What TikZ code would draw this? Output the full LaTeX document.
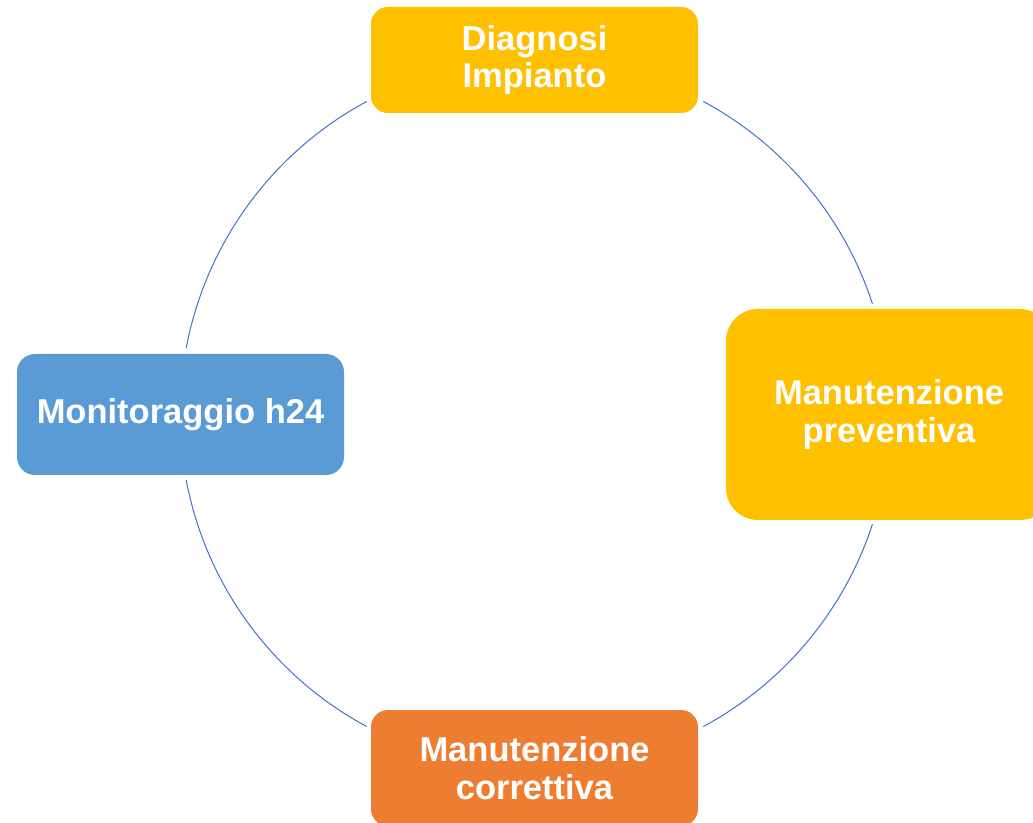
\documentclass[tikz,border=0pt]{standalone}
\usepackage{fontspec}
\setmainfont{Liberation Sans}
\definecolor{gold}{HTML}{FFC000}
\definecolor{sky}{HTML}{5B9BD5}
\definecolor{tang}{HTML}{ED7D31}
\definecolor{ring}{HTML}{4472C4}
\tikzset{
  box/.style={rectangle, inner sep=0pt, align=center, text=white,
    font=\fontsize{34.5}{37.5}\selectfont\bfseries},
  ringline/.style={draw=ring, line width=1pt}
}
\begin{document}
\begin{tikzpicture}[x=1pt,y=1pt]
\clip (0,0) rectangle (1033,822);
\fill[white] (0,0) rectangle (1033,822);
\coordinate (c) at (535,408);
\node[box, fill=gold, rounded corners=17pt, minimum width=327pt, minimum height=106pt] (top) at (534.5,762) {Diagnosi\\Impianto};
\node[box, fill=gold, rounded corners=32pt, minimum width=326pt, minimum height=211pt] (right) at (889,407.5) {Manutenzione\\preventiva};
\node[box, fill=sky, rounded corners=18pt, minimum width=327pt, minimum height=121pt] (left) at (180.5,407.5) {Monitoraggio h24};
\node[box, fill=tang, rounded corners=17pt, minimum width=327pt, minimum height=116pt] (bottom) at (534.5,54) {Manutenzione\\correttiva};
\draw[ringline] (c) ++(61.7:355) arc[start angle=61.7, end angle=18.1, radius=355];
\draw[ringline] (c) ++(-18.1:355) arc[start angle=-18.1, end angle=-61.7, radius=355];
\draw[ringline] (c) ++(-118.3:355) arc[start angle=-118.3, end angle=-169.3, radius=355];
\draw[ringline] (c) ++(169.3:355) arc[start angle=169.3, end angle=118.3, radius=355];
\end{tikzpicture}
\end{document}
